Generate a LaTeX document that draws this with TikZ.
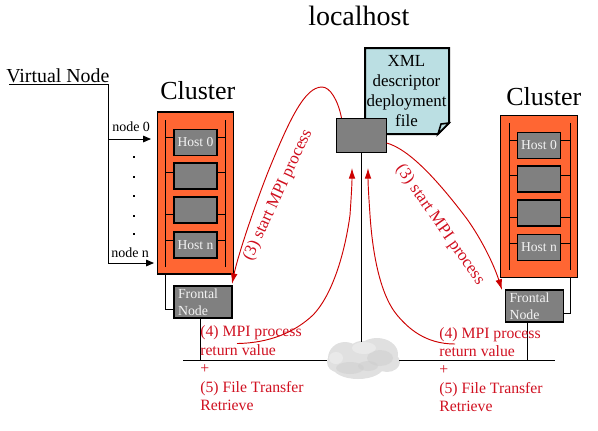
\documentclass[tikz,border=0pt]{standalone}
\usepackage{fontspec}
\setmainfont{Liberation Serif}
\usetikzlibrary{arrows.meta}
\definecolor{clusterfill}{HTML}{FF6633}
\definecolor{boxgray}{HTML}{808080}
\definecolor{docfill}{HTML}{BBDFE3}
\definecolor{redline}{HTML}{CC0000}
\definecolor{redtext}{HTML}{D01020}
\definecolor{hosttext}{HTML}{F2F2F2}
\tikzset{
  pic/.style={x=0.75pt,y=-0.75pt},
  blk/.style={draw=black,line width=0.75pt},
  clusterbox/.style={draw=black,line width=0.9pt,fill=clusterfill,minimum width=57.4pt,minimum height=121.5pt,inner sep=0pt},
  hostbox/.style={draw=black,line width=0.9pt,fill=boxgray,text=hosttext,font=\fontsize{10.2pt}{12pt}\selectfont,minimum width=32.25pt,minimum height=19.5pt,inner sep=0pt},
  frontalbox/.style={draw=black,line width=0.9pt,fill=boxgray,text=hosttext,font=\fontsize{10.4pt}{12.75pt}\selectfont,minimum width=43.5pt,minimum height=24pt,inner xsep=3pt,inner ysep=0pt,text width=37.5pt,align=left},
  localbox/.style={draw=black,line width=0.75pt,fill=boxgray,minimum width=37.5pt,minimum height=25.5pt,inner sep=0pt},
  title/.style={anchor=base west,inner sep=0pt,font=\fontsize{19.5pt}{24pt}\selectfont},
  smalllabel/.style={anchor=base west,inner sep=0pt,font=\fontsize{10.5pt}{12pt}\selectfont},
  redlabel/.style={anchor=base west,inner sep=0pt,text=redtext,align=left,font=\fontsize{11.8pt}{13.9pt}\selectfont},
  startlabel/.style={inner sep=0pt,text=redtext,font=\fontsize{12.7pt}{15pt}\selectfont},
  redcurve/.style={draw=redline,line width=0.7pt},
  redarrow/.style={redcurve,-{Latex[length=8pt,width=5pt]}},
  blackarrow/.style={blk,-{Triangle[length=6pt,width=5pt]}},
  dotmark/.style={inner sep=0pt,minimum size=1pt,fill=black},
  docshape/.style={draw=black,line width=1.5pt,fill=docfill,line join=miter},
  cloudblob/.style={fill=black!12,draw=none},
  cloudshade/.style={fill=black!20,draw=none,opacity=.45},
  cloudlight/.style={fill=white,draw=none,opacity=.3},
}
\begin{document}
\begin{tikzpicture}[pic]
\useasboundingbox (0,0) rectangle (598,430);
% titles
\node[title,font=\fontsize{21pt}{24pt}\selectfont] (ltitle) at (308,25) {localhost};
\node[title] (c1title) at (160,99) {Cluster};
\node[title] (c2title) at (506,105) {Cluster};
\node[anchor=base west,inner sep=0pt,font=\fontsize{14.9pt}{17pt}\selectfont] (vn) at (6,82) {Virtual Node};
% document
\path[docshape] (365,48) -- (449,48) -- (449,123) -- (438,134) -- (365,134) -- cycle;
\path[draw=black,line width=1.2pt,fill=docfill] (449,123) -- (441,124) -- (438,134) -- cycle;
\node[inner sep=0pt,align=center,font=\fontsize{12.7pt}{15pt}\selectfont] (doc) at (406.5,91.5) {XML\\descriptor\\deployment\\file};
% local box
\node[localbox] (local) at (361.5,135.5) {};
% cloud
\coordinate (cloud) at (362,358);
\coordinate (cloudN) at (360,342);
\coordinate (cloudW) at (327,360);
\coordinate (cloudE) at (399,360);
\begin{scope}
  \fill[cloudblob] (345,358) ellipse (17 and 16);
  \fill[cloudblob] (377,354) ellipse (21 and 16);
  \fill[cloudblob] (358,366) ellipse (26 and 13);
  \fill[cloudblob] (337,362) ellipse (10 and 10);
  \fill[cloudblob] (387,362) ellipse (13 and 10);
  \fill[cloudblob] (362,352) ellipse (14 and 11);
  \fill[cloudshade] (380,358) ellipse (13 and 8);
  \fill[cloudshade] (350,368) ellipse (14 and 6);
  \fill[cloudshade] (368,366) ellipse (10 and 5);
  \fill[cloudlight] (364,348) ellipse (12 and 6);
  \fill[cloudlight] (336,358) ellipse (7 and 6);
\end{scope}
% left cluster
\node[clusterbox] (c1) at (195.5,193) {};
\coordinate (c1lt) at (165.5,120);
\coordinate (c1lb) at (165.5,267);
\coordinate (c1rt) at (225.5,120);
\coordinate (c1rb) at (225.5,267);
\draw[blk] (c1lt) -- (c1lb);
\draw[blk] (c1rt) -- (c1rb);
\node[hostbox] (h10) at (195.5,142.5) {Host 0};
\node[hostbox] (h11) at (195.5,176) {};
\node[hostbox] (h12) at (195.5,210) {};
\node[hostbox] (h13) at (195.5,245) {Host n};
\foreach \h/\yy in {h10/137,h11/172,h12/214,h13/240}{
  \draw[blk] (165.5,\yy) -- (\h.west |- 0,\yy);
  \draw[blk] (\h.east |- 0,\yy) -- (225.5,\yy);
}
\node[frontalbox] (f1) at (203,302) {Frontal\\Node};
\coordinate (v1a) at (165.5,274);
\coordinate (v1b) at (165.5,309.5);
\draw[blk] (v1a) -- (v1b) -- (v1b -| f1.west);
% right cluster
\node[clusterbox] (c2) at (539,196.5) {};
\coordinate (c2lt) at (509.5,123);
\coordinate (c2lb) at (509.5,270);
\coordinate (c2rt) at (570,123);
\coordinate (c2rb) at (570,270);
\draw[blk] (c2lt) -- (c2lb);
\draw[blk] (c2rt) -- (c2rb);
\node[hostbox] (h20) at (539,145.5) {Host 0};
\node[hostbox] (h21) at (539,179) {};
\node[hostbox] (h22) at (539,213) {};
\node[hostbox] (h23) at (539,247.5) {Host n};
\foreach \h/\yy in {h20/140,h21/175,h22/217,h23/243}{
  \draw[blk] (509.5,\yy) -- (\h.west |- 0,\yy);
  \draw[blk] (\h.east |- 0,\yy) -- (570,\yy);
}
\node[frontalbox] (f2) at (534.5,306) {Frontal\\Node};
\coordinate (v2a) at (570,277);
\coordinate (v2b) at (570,313);
\draw[blk] (v2a) -- (v2b) -- (v2b -| f2.east);
% network
\coordinate (n1l) at (183,360.5);
\coordinate (n2r) at (555,360.5);
\draw[blk] (n1l) -- (cloudW |- n1l);
\draw[blk] (cloudE |- n2r) -- (n2r);
\coordinate (f1d) at (200,360.5);
\coordinate (f2d) at (527,360.5);
\draw[blk] (f1d |- f1.south) -- (f1d);
\draw[blk] (f2d |- f2.south) -- (f2d);
\draw[blk] (local.south) -- (local.south |- cloudN);
% virtual node
\coordinate (vnl) at (9,84.5);
\coordinate (vnc) at (108,84.5);
\coordinate (vnb) at (108,263);
\coordinate (a0) at (151,139);
\coordinate (an) at (154,263);
\draw[blk] (vnl) -- (vnc) -- (vnb);
\draw[blackarrow] (vnc |- a0) -- (a0);
\draw[blackarrow] (vnb) -- (an);
\node[smalllabel] (n0) at (112,131.5) {node 0};
\node[smalllabel] (nn) at (111,257) {node n};
\foreach \yy [count=\i] in {157,177,196,216,234}
  \node[dotmark] (d\i) at (134,\yy) {};
% red curves
\coordinate (s1) at (341.5,118);
\coordinate (t1) at (232,284);
\coordinate (s2) at (386.5,143);
\coordinate (t2) at (502,290);
\coordinate (r1s) at (237,343.5);
\coordinate (r1t) at (352,168);
\coordinate (r2s) at (455,344);
\coordinate (r2t) at (368,168);
\draw[redarrow] (s1) .. controls (338,100) and (330,87) .. (322,87) .. controls (305,87) and (290,118) .. (268,172) .. controls (255,205) and (238,255) .. (t1);
\draw[redarrow] (s2) .. controls (405,148) and (430,170) .. (467,219) .. controls (482,240) and (494,265) .. (t2);
\draw[redarrow] (r1s) .. controls (270,343) and (295,332) .. (313,315) .. controls (335,292) and (346,245) .. (350,215) .. controls (351,200) and (352,185) .. (r1t);
\draw[redarrow] (r2s) .. controls (425,344) and (408,328) .. (397,315) .. controls (378,292) and (372,245) .. (370,215) .. controls (369,200) and (368,185) .. (r2t);
% red labels
\node[startlabel,rotate=65] (l3a) at (278,195) {(3) start MPI process};
\node[startlabel,rotate=-55] (l3b) at (440,225) {(3) start MPI process};
\node[redlabel] (l4a) at (200,336) {(4) MPI process};
\node[redlabel] (l4b) at (200,355) {return value};
\node[redlabel] (l4c) at (200,373) {+};
\node[redlabel] (l4d) at (200,392) {(5) File Transfer};
\node[redlabel] (l4e) at (200,410) {Retrieve};
\node[redlabel] (l5a) at (439,338) {(4) MPI process};
\node[redlabel] (l5b) at (439,356) {return value};
\node[redlabel] (l5c) at (439,374) {+};
\node[redlabel] (l5d) at (439,393) {(5) File Transfer};
\node[redlabel] (l5e) at (439,411) {Retrieve};
\end{tikzpicture}
\end{document}
